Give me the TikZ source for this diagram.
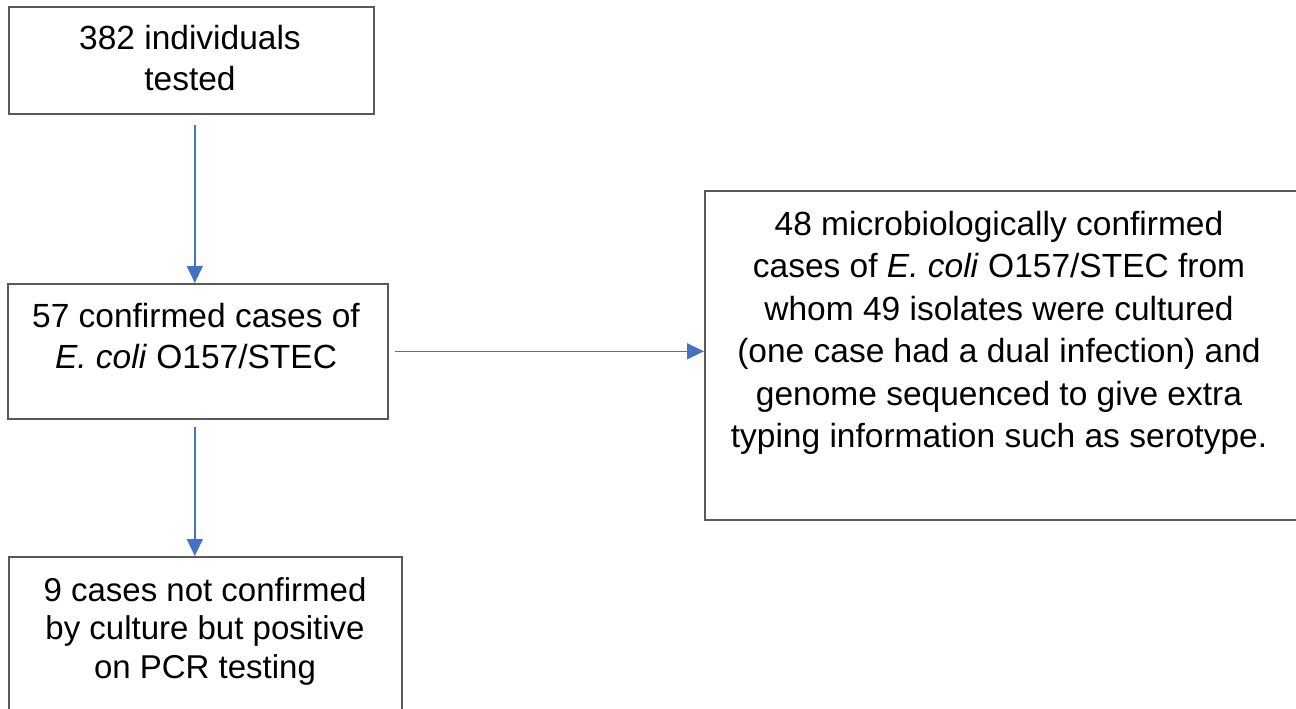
\documentclass[tikz,border=0pt]{standalone}
\usepackage{fontspec}
\setmainfont{Liberation Sans}
\usetikzlibrary{arrows.meta}
\tikzset{
  boxnode/.style={draw=black!65, line width=1.6pt, fill=none, inner sep=0pt, anchor=north west},
  txt/.style={anchor=north, inner sep=0pt, align=center, font=\fontsize{33.5}{41}\selectfont},
  txtsmall/.style={anchor=north, inner sep=0pt, align=center, font=\fontsize{33}{38.5}\selectfont},
  txtbig/.style={anchor=north, inner sep=0pt, align=center, font=\fontsize{33.5}{42.5}\selectfont},
  arr/.style={draw={rgb,255:red,68;green,114;blue,196}, line width=1.4pt,
    -{Triangle[length=17pt,width=16pt,fill={rgb,255:red,68;green,114;blue,196}]}}
}
\newcommand{\fl}{\rule{0pt}{24.8pt}}
\begin{document}
\begin{tikzpicture}[x=1pt,y=-1pt]
\useasboundingbox (0,0) rectangle (1296,709);
% boxes
\node[boxnode, minimum width=365pt, minimum height=107pt] (b1) at (8,6) {};
\node[boxnode, minimum width=380pt, minimum height=135pt] (b2) at (7,283) {};
\node[boxnode, minimum width=393pt, minimum height=170pt] (b3) at (8,556) {};
\node[boxnode, minimum width=594pt, minimum height=329pt] (b4) at (704,190) {};
% texts
\node[txt] (t1) at (190,24.5) {\fl 382 individuals\\tested};
\node[txt] (t2) at (196,302.5) {\fl 57 confirmed cases of\\\textit{E. coli} O157/STEC};
\node[txtsmall] (t3) at (205,576) {\fl 9 cases not confirmed\\by culture but positive\\on PCR testing};
\node[txtbig] (t4) at (999,210) {\fl 48 microbiologically confirmed\\cases of \textit{E. coli} O157/STEC from\\whom 49 isolates were cultured\\(one case had a dual infection) and\\genome sequenced to give extra\\typing information such as serotype.};
% arrows
\draw[arr] ([xshift=3.5pt,yshift=-10pt]b1.south) -- ([xshift=3.5pt]b1.south |- b2.north);
\draw[arr] ([xshift=-3pt,yshift=-7pt]b2.south) -- ([xshift=-3pt]b2.south |- b3.north);
\draw[arr] ([xshift=6pt]b2.east) -- (b2.east -| b4.west);
\end{tikzpicture}
\end{document}
